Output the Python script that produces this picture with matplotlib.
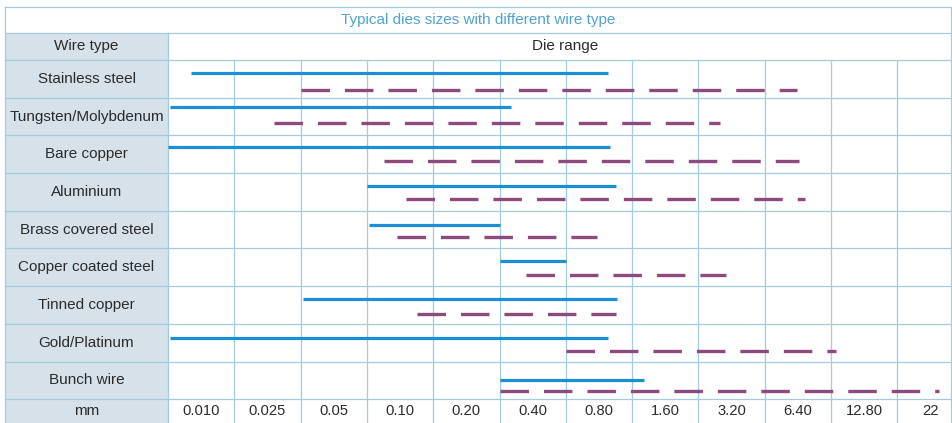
#!/usr/bin/env python3
"""Typical die sizes for different wire types, drawn as a table-style range chart."""

import matplotlib as mpl
import matplotlib.pyplot as plt
from matplotlib.patches import Rectangle


TITLE = "Typical dies sizes with different wire type"
WIRE_TYPES = [
    "Stainless steel",
    "Tungsten/Molybdenum",
    "Bare copper",
    "Aluminium",
    "Brass covered steel",
    "Copper coated steel",
    "Tinned copper",
    "Gold/Platinum",
    "Bunch wire",
]
SIZE_LABELS = ["0.010", "0.025", "0.05", "0.10", "0.20", "0.40",
               "0.80", "1.60", "3.20", "6.40", "12.80", "22"]

# die range ends, measured in columns of the size scale (0 = left edge of 0.010)
SOLID_START = [0.35, 0.03, 0.0, 3.0, 3.03, 5.0, 2.04, 0.03, 5.0]
SOLID_END = [6.64, 5.17, 6.67, 6.76, 5.0, 6.0, 6.77, 6.64, 7.18]
DASH_START = [2.0, 1.6, 3.26, 3.59, 3.45, 5.4, 3.75, 6.0, 5.0]
DASH_END = [9.49, 8.33, 9.52, 9.61, 6.47, 8.42, 6.76, 10.08, 11.63]

# layout (pixels of the 952x423 output)
W, H = 952, 423
LEFT_PX, COL_W = 168, 66.3
TOP_PX, ROW_H = 60, 37.7
BORDER_L, BORDER_R, BORDER_T = 5, 951, 7
TITLE_B = 33
# vertical place of the two lines inside each row (fraction of row height)
SOLID_Y = [0.34, 0.25, 0.32, 0.34, 0.37, 0.32, 0.34, 0.37, 0.50]
DASH_Y = [0.79, 0.67, 0.69, 0.69, 0.69, 0.69, 0.74, 0.72, 0.77]

GRID = "#a3cbe0"
SHADE = "#d6e1ea"
BLUE = "#1b8fd3"
PURPLE = "#8c4a7d"
TEXT = "#2b2b2b"
TITLE_C = "#4fa3d3"


def px_x(p):
    return (p - LEFT_PX) / COL_W


def px_y(p):
    return (p - TOP_PX) / ROW_H


def draw():
    mpl.rcParams["font.family"] = ["Liberation Sans", "DejaVu Sans"]
    fig = plt.figure(figsize=(W / 100, H / 100), dpi=100)
    ax = fig.add_axes([0, 0, 1, 1])
    ax.set_xlim(px_x(0), px_x(W))
    ax.set_ylim(px_y(H), px_y(0))
    ax.axis("off")

    n = len(WIRE_TYPES)
    x_l, x_r = px_x(BORDER_L), px_x(BORDER_R)
    y_t, y_tb = px_y(BORDER_T), px_y(TITLE_B)
    y_bot = px_y(H + 2)

    # shaded label column
    ax.add_patch(Rectangle((x_l, y_tb), 0 - x_l, y_bot - y_tb,
                           facecolor=SHADE, edgecolor="none", zorder=0))

    # horizontal rules
    lw_grid = 0.9
    for y in [y_t, y_tb] + [float(i) for i in range(n + 1)]:
        ax.plot([x_l, x_r], [y, y], color=GRID, lw=lw_grid, zorder=1)
    # outer verticals and label column edge
    ax.plot([x_l, x_l], [y_t, y_bot], color=GRID, lw=lw_grid, zorder=1)
    ax.plot([x_r, x_r], [y_t, y_bot], color=GRID, lw=lw_grid, zorder=1)
    ax.plot([0, 0], [y_tb, y_bot], color=GRID, lw=lw_grid, zorder=1)
    # column grid
    for c in range(1, len(SIZE_LABELS)):
        ax.plot([c, c], [0, y_bot], color=GRID, lw=lw_grid, zorder=1)

    # range lines
    lw_solid, lw_dash = 2.3, 2.4
    for i in range(n):
        ys = i + SOLID_Y[i]
        yd = i + DASH_Y[i]
        ax.plot([SOLID_START[i], SOLID_END[i]], [ys, ys], color=BLUE,
                lw=lw_solid, solid_capstyle="butt", zorder=3)
        ax.plot([DASH_START[i], DASH_END[i]], [yd, yd], color=PURPLE,
                lw=lw_dash, linestyle=(0, (20.5 / lw_dash, 10.8 / lw_dash)),
                dash_capstyle="butt", zorder=3)

    # texts
    fs = 11
    label_x = (x_l + 0) / 2
    ax.text((x_l + x_r) / 2, (y_t + y_tb) / 2, TITLE, color=TITLE_C,
            fontsize=11, ha="center", va="center")
    ax.text(label_x, (y_tb + 0) / 2, "Wire type", color=TEXT, fontsize=fs,
            ha="center", va="center")
    ax.text(px_x(565), (y_tb + 0) / 2, "Die range", color=TEXT, fontsize=fs,
            ha="center", va="center")
    for i, name in enumerate(WIRE_TYPES):
        ax.text(label_x, i + 0.5, name, color=TEXT, fontsize=fs,
                ha="center", va="center")
    y_mm = px_y((TOP_PX + n * ROW_H + H) / 2)
    ax.text(label_x, y_mm, "mm", color=TEXT, fontsize=fs, ha="center", va="center")
    for c, lab in enumerate(SIZE_LABELS):
        ax.text(c + 0.5, y_mm, lab, color=TEXT, fontsize=10.6,
                ha="center", va="center")

    fig.savefig("out.png", dpi=100, facecolor="white")
    plt.close(fig)


if __name__ == "__main__":
    draw()
